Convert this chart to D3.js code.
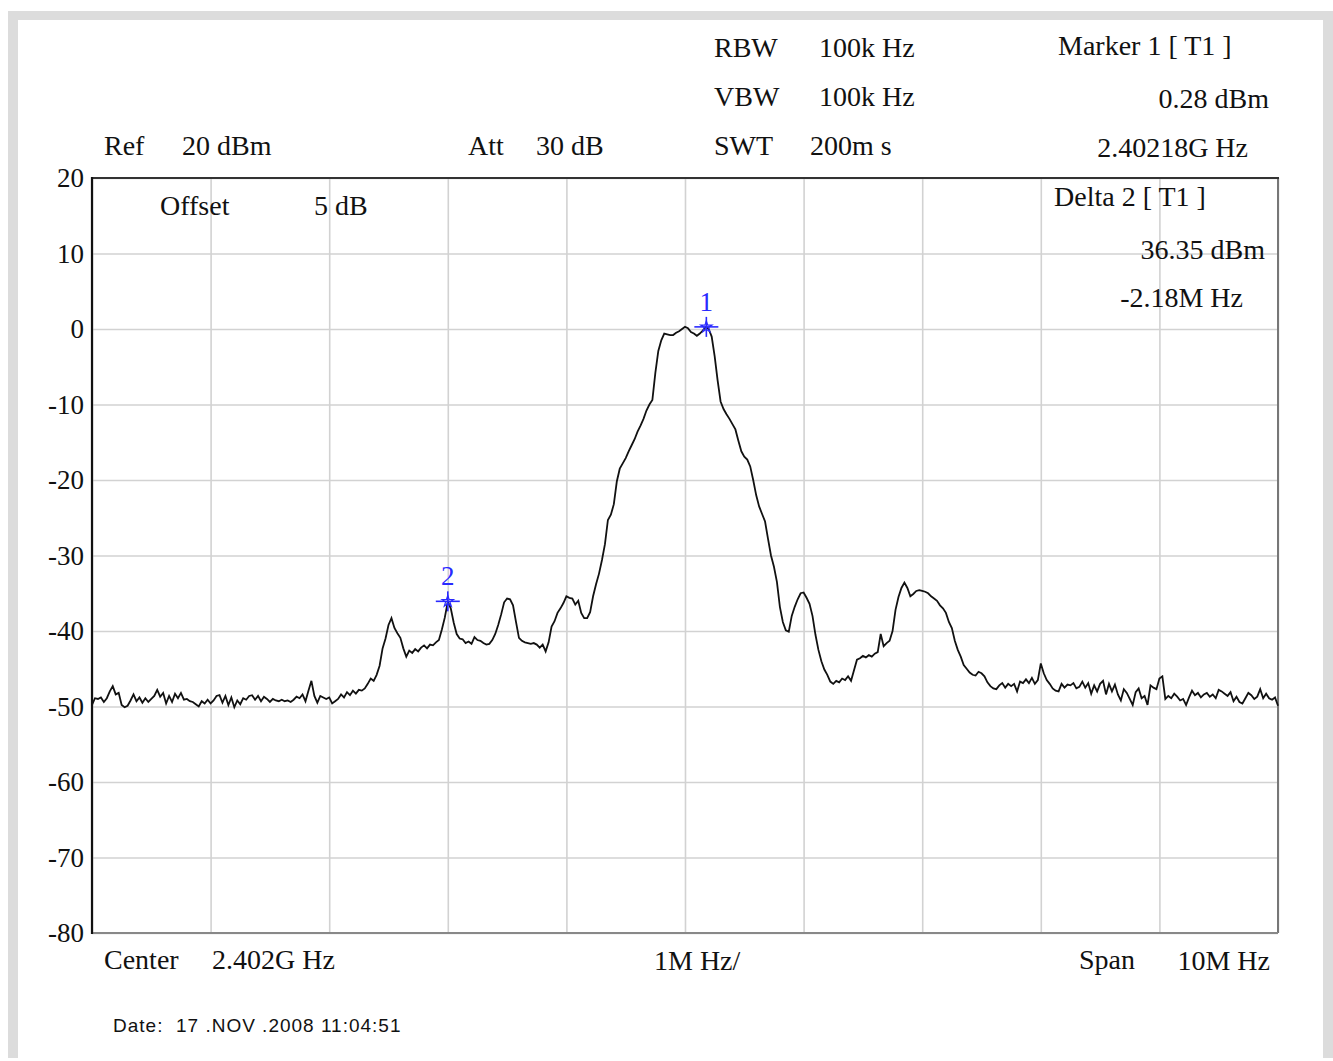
<!DOCTYPE html>
<html>
<head>
<meta charset="utf-8">
<script src="https://cdn.jsdelivr.net/npm/d3@7"></script>
<style>
  body { margin: 0; background: #fff; }
  svg text { font-family: "Liberation Serif", "Times New Roman", serif; fill: #111; }
  .date { font-family: "Liberation Sans", Arial, sans-serif; white-space: pre; letter-spacing: 1px; }
</style>
</head>
<body>
<div id="chart"></div>
<script>
// analyzer settings
const centerLabel = ["Center", "2.402G Hz"];
const spanLabel = ["Span", "10M Hz"];
const divLabel = "1M Hz/";
const refLabel = ["Ref", "20 dBm"];
const attLabel = ["Att", "30 dB"];
const offsetLabel = ["Offset", "5 dB"];
const bwLabels = [["RBW", "100k Hz"], ["VBW", "100k Hz"], ["SWT", "200m s"]];
const marker1Text = ["Marker 1 [ T1 ]", "0.28 dBm", "2.40218G Hz"];
const delta2Text = ["Delta 2 [ T1 ]", "36.35 dBm", "-2.18M Hz"];
const dateText = "Date:  17 .NOV .2008 11:04:51";

const yTicks = [20, 10, 0, -10, -20, -30, -40, -50, -60, -70, -80];
const xDivs = [-5, -4, -3, -2, -1, 0, 1, 2, 3, 4, 5]; // MHz from center

// markers: offset from center (MHz), level (dBm)
const markers = [
  { id: "1", mhz: 0.18, dbm: 0.28 },
  { id: "2", mhz: -2.00, dbm: -36.07 }
];

// trace: 401 points, from -5 MHz to +5 MHz in 0.025 MHz steps
const traceStart = -5, traceStep = 0.025;
const trace = [
  -49.8,-48.9,-49.0,-48.8,-49.4,-48.9,-48.0,-47.3,-48.4,-48.2,
  -49.8,-50.1,-49.9,-49.2,-48.4,-49.3,-48.8,-49.5,-48.9,-49.4,
  -49.0,-48.6,-47.8,-48.7,-48.2,-49.6,-48.6,-49.4,-48.3,-48.9,
  -48.2,-49.1,-49.0,-49.3,-49.4,-49.7,-50.0,-49.3,-49.6,-49.1,
  -49.6,-49.2,-48.6,-48.5,-49.5,-48.6,-49.8,-48.8,-50.1,-49.2,
  -49.7,-48.9,-49.1,-48.6,-48.5,-49.1,-48.6,-49.3,-48.7,-49.0,
  -49.4,-49.0,-49.2,-49.3,-49.1,-49.3,-49.2,-49.4,-49.1,-48.7,
  -48.9,-48.4,-49.3,-47.9,-46.6,-48.6,-49.5,-48.6,-48.8,-49.0,
  -48.8,-49.6,-49.3,-49.0,-48.4,-48.8,-48.1,-48.5,-47.9,-48.3,
  -47.8,-47.9,-47.6,-47.0,-46.3,-46.6,-45.8,-44.6,-42.3,-41.0,
  -39.2,-38.3,-39.6,-40.3,-40.9,-42.3,-43.4,-42.6,-42.9,-42.4,
  -42.7,-42.2,-41.9,-42.3,-41.8,-41.9,-41.5,-41.2,-39.8,-38.2,
  -36.1,-37.0,-38.9,-40.4,-41.0,-41.1,-41.6,-41.4,-41.7,-40.8,
  -41.2,-41.3,-41.6,-41.8,-41.7,-41.2,-40.4,-39.2,-37.8,-36.2,
  -35.7,-35.8,-36.6,-38.8,-40.9,-41.3,-41.5,-41.6,-41.7,-41.6,
  -41.8,-42.2,-41.8,-42.7,-41.5,-39.4,-38.7,-37.6,-37.0,-36.3,
  -35.4,-35.6,-35.7,-36.5,-36.0,-37.6,-38.3,-38.3,-37.5,-35.4,
  -33.8,-32.4,-30.6,-28.5,-25.3,-24.6,-23.2,-20.2,-18.5,-17.8,
  -17.1,-16.2,-15.4,-14.6,-13.6,-12.8,-11.9,-10.8,-10.0,-9.4,
  -5.8,-2.9,-1.5,-0.6,-0.7,-0.8,-0.8,-0.5,-0.3,0.0,
  0.3,0.1,-0.4,-0.6,-0.9,-0.6,-0.2,0.28,0.0,-1.0,
  -3.6,-6.8,-9.6,-10.6,-11.3,-11.9,-12.6,-13.3,-14.8,-16.2,
  -16.9,-17.3,-18.2,-20.0,-22.0,-23.5,-24.5,-25.5,-27.8,-30.0,
  -31.5,-33.5,-36.8,-38.8,-39.9,-40.1,-38.0,-36.8,-35.8,-35.0,
  -34.9,-35.6,-36.4,-38.0,-40.5,-42.5,-44.0,-45.1,-45.8,-46.7,
  -47.0,-46.6,-46.8,-46.3,-46.5,-46.0,-46.6,-45.2,-43.8,-43.6,
  -43.3,-43.5,-43.2,-43.4,-43.0,-42.8,-40.4,-42.0,-41.6,-41.3,
  -40.0,-37.2,-35.5,-34.3,-33.6,-34.3,-35.4,-35.1,-34.7,-34.6,
  -34.7,-34.8,-35.0,-35.4,-35.7,-36.0,-36.6,-37.0,-37.6,-38.8,
  -39.6,-41.3,-42.5,-43.4,-44.5,-45.0,-45.5,-45.8,-45.9,-45.4,
  -45.6,-46.0,-46.8,-47.3,-47.6,-47.7,-47.2,-46.9,-47.5,-47.0,
  -47.3,-47.0,-48.0,-46.7,-46.9,-46.4,-46.9,-46.2,-47.0,-46.5,
  -44.3,-45.6,-46.5,-47.0,-47.6,-47.9,-48.0,-47.0,-47.5,-47.1,
  -47.2,-46.9,-47.6,-47.4,-46.7,-47.5,-46.9,-48.3,-47.2,-48.0,
  -47.0,-46.6,-48.4,-47.0,-48.0,-47.1,-48.4,-49.2,-47.7,-48.2,
  -49.0,-49.8,-48.1,-47.6,-48.9,-48.6,-49.8,-47.2,-47.5,-47.7,
  -46.3,-46.0,-49.0,-48.6,-48.9,-48.3,-48.7,-49.2,-49.0,-49.8,
  -48.8,-47.9,-48.5,-48.2,-48.8,-48.4,-48.2,-48.7,-48.4,-48.9,
  -47.8,-48.0,-48.3,-48.6,-48.1,-49.3,-48.7,-49.4,-49.6,-48.9,
  -48.2,-48.5,-49.0,-48.7,-47.7,-48.9,-48.3,-48.9,-49.1,-48.8,
  -49.9
];

const W = 1333, H = 1061;
const plot = { left: 92, top: 178, right: 1278, bottom: 933 };
const FS = 28;

const svg = d3.select("#chart").append("svg")
  .attr("width", W)
  .attr("height", H);

// window frame
svg.append("rect").attr("x", 8).attr("y", 11).attr("width", W - 8).attr("height", 1047).attr("fill", "#dcdcdc");
svg.append("rect").attr("x", 18).attr("y", 20).attr("width", 1305).attr("height", 1038).attr("fill", "#fff");

const x = d3.scaleLinear().domain([-5, 5]).range([plot.left, plot.right]);
const y = d3.scaleLinear().domain([-80, 20]).range([plot.bottom, plot.top]);

// grid
const gx = svg.append("g")
  .attr("transform", "translate(0," + plot.bottom + ")")
  .call(d3.axisBottom(x).tickValues(xDivs).tickSize(-(plot.bottom - plot.top)).tickFormat(""));
const gy = svg.append("g")
  .attr("transform", "translate(" + plot.left + ",0)")
  .call(d3.axisLeft(y).tickValues(yTicks).tickSize(-(plot.right - plot.left)).tickFormat(""));
[gx, gy].forEach(g => {
  g.select(".domain").remove();
  g.selectAll(".tick line").attr("stroke", "#d2d2d2").attr("stroke-width", 1.6);
});

// y labels
const yl = svg.append("g")
  .attr("transform", "translate(" + plot.left + ",0)")
  .call(d3.axisLeft(y).tickValues(yTicks).tickSize(0).tickPadding(8).tickFormat(d => d));
yl.select(".domain").remove();
yl.selectAll("text").attr("font-size", 27).attr("font-family", "Liberation Serif").attr("fill", "#111");

// plot border
svg.append("line").attr("x1", plot.right).attr("x2", plot.right).attr("y1", plot.top).attr("y2", plot.bottom)
  .attr("stroke", "#777").attr("stroke-width", 2);
svg.append("line").attr("x1", plot.left).attr("x2", plot.right).attr("y1", plot.bottom).attr("y2", plot.bottom)
  .attr("stroke", "#888").attr("stroke-width", 2);
svg.append("line").attr("x1", plot.left).attr("x2", plot.right + 1).attr("y1", plot.top).attr("y2", plot.top)
  .attr("stroke", "#333").attr("stroke-width", 2);
svg.append("line").attr("x1", plot.left).attr("x2", plot.left).attr("y1", plot.top - 1).attr("y2", plot.bottom + 1)
  .attr("stroke", "#111").attr("stroke-width", 2.2);

// trace
const line = d3.line()
  .x((d, i) => x(traceStart + i * traceStep))
  .y(d => y(d));
svg.append("path")
  .datum(trace)
  .attr("d", line)
  .attr("fill", "none")
  .attr("stroke", "#111")
  .attr("stroke-width", 1.8)
  .attr("stroke-linejoin", "miter");

// markers
const blue = "#2a2aff";
const mk = svg.selectAll("g.marker").data(markers).enter().append("g")
  .attr("class", "marker")
  .attr("transform", d => "translate(" + x(d.mhz) + "," + y(d.dbm) + ")");
mk.append("line").attr("x1", -12).attr("x2", 12).attr("y1", 0).attr("y2", 0).attr("stroke", blue).attr("stroke-width", 1.6);
mk.append("line").attr("x1", 0).attr("x2", 0).attr("y1", -10).attr("y2", 10).attr("stroke", blue).attr("stroke-width", 1.6);
mk.append("path").attr("d", d3.symbol(d3.symbolStar, 40)).attr("fill", "none").attr("stroke", blue).attr("stroke-width", 1.2);
mk.append("text").attr("x", 0).attr("y", -16).attr("text-anchor", "middle")
  .attr("font-size", 27).style("fill", blue).text(d => d.id);

// header text
function txt(s, px, py, anchor, cls) {
  svg.append("text").attr("x", px).attr("y", py)
    .attr("text-anchor", anchor || "start")
    .attr("font-size", cls === "date" ? 19 : FS)
    .attr("class", cls || null)
    .text(s);
}

const bwRows = [57, 106, 155];
bwLabels.forEach((r, i) => {
  txt(r[0], 714, bwRows[i]);
  txt(r[1], i === 2 ? 810 : 819, bwRows[i]);
});
txt(refLabel[0], 104, 155); txt(refLabel[1], 182, 155);
txt(attLabel[0], 468, 155); txt(attLabel[1], 536, 155);
txt(offsetLabel[0], 160, 215); txt(offsetLabel[1], 314, 215);

txt(marker1Text[0], 1058, 55);
txt(marker1Text[1], 1269, 108, "end");
txt(marker1Text[2], 1248, 157, "end");
txt(delta2Text[0], 1054, 206);
txt(delta2Text[1], 1265, 259, "end");
txt(delta2Text[2], 1243, 307, "end");

txt(centerLabel[0], 104, 969); txt(centerLabel[1], 212, 969);
txt(divLabel, 654, 970);
txt(spanLabel[0], 1079, 969); txt(spanLabel[1], 1270, 970, "end");
txt(dateText, 113, 1032, "start", "date");
</script>
</body>
</html>
